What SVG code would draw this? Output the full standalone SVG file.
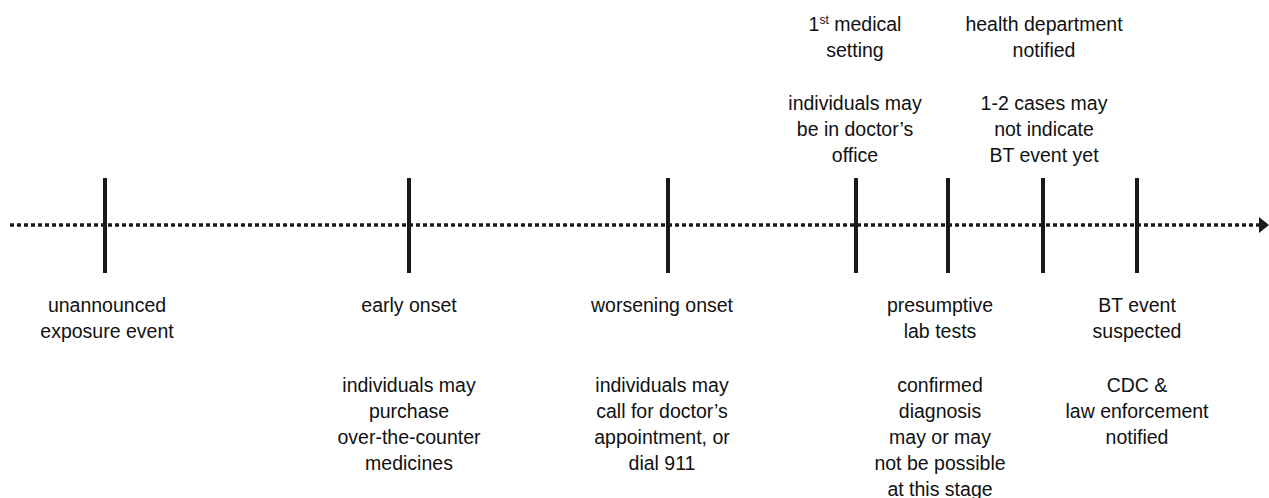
<svg xmlns="http://www.w3.org/2000/svg" width="1269" height="498" viewBox="0 0 1269 498">
<style>
text{font-family:"Liberation Sans",Arial,sans-serif;font-size:19.5px;fill:#111;text-anchor:middle}
.tick{stroke:#1a1a1a;stroke-width:4}
.axis{stroke:#1a1a1a;stroke-width:3.5;stroke-dasharray:4 3;fill:none}
</style>
<defs>
<marker id="arrow" markerWidth="10" markerHeight="16" refX="0" refY="8" orient="auto" markerUnits="userSpaceOnUse">
<path d="M0,0 L10,8 L0,16 Z" fill="#1a1a1a"/>
</marker>
</defs>
<rect width="1269" height="498" fill="#fff"/>
<g id="connectors">
<line class="axis" x1="10" y1="225" x2="1259" y2="225" marker-end="url(#arrow)"/>
</g>
<g id="n1">
<line class="tick" x1="105" y1="178" x2="105" y2="273"/>
<text x="107" y="312">unannounced</text>
<text x="107" y="338">exposure event</text>
</g>
<g id="n2">
<line class="tick" x1="409" y1="178" x2="409" y2="273"/>
<text x="409" y="312">early onset</text>
<text x="409" y="392">individuals may</text>
<text x="409" y="418">purchase</text>
<text x="409" y="444">over-the-counter</text>
<text x="409" y="470">medicines</text>
</g>
<g id="n3">
<line class="tick" x1="668" y1="178" x2="668" y2="273"/>
<text x="662" y="312">worsening onset</text>
<text x="662" y="392">individuals may</text>
<text x="662" y="418">call for doctor’s</text>
<text x="662" y="444">appointment, or</text>
<text x="662" y="470">dial 911</text>
</g>
<g id="n4">
<line class="tick" x1="856" y1="178" x2="856" y2="273"/>
<text x="855" y="31">1<tspan font-size="12" dy="-7">st</tspan><tspan dy="7"> medical</tspan></text>
<text x="855" y="57">setting</text>
<text x="855" y="110">individuals may</text>
<text x="855" y="136">be in doctor’s</text>
<text x="855" y="162">office</text>
</g>
<g id="n5">
<line class="tick" x1="948" y1="178" x2="948" y2="273"/>
<text x="940" y="312">presumptive</text>
<text x="940" y="338">lab tests</text>
<text x="940" y="392">confirmed</text>
<text x="940" y="418">diagnosis</text>
<text x="940" y="444">may or may</text>
<text x="940" y="470">not be possible</text>
<text x="940" y="496">at this stage</text>
</g>
<g id="n6">
<line class="tick" x1="1043" y1="178" x2="1043" y2="273"/>
<text x="1044" y="31">health department</text>
<text x="1044" y="57">notified</text>
<text x="1044" y="110">1-2 cases may</text>
<text x="1044" y="136">not indicate</text>
<text x="1044" y="162">BT event yet</text>
</g>
<g id="n7">
<line class="tick" x1="1137" y1="178" x2="1137" y2="273"/>
<text x="1137" y="312">BT event</text>
<text x="1137" y="338">suspected</text>
<text x="1137" y="392">CDC &amp;</text>
<text x="1137" y="418">law enforcement</text>
<text x="1137" y="444">notified</text>
</g>
</svg>
